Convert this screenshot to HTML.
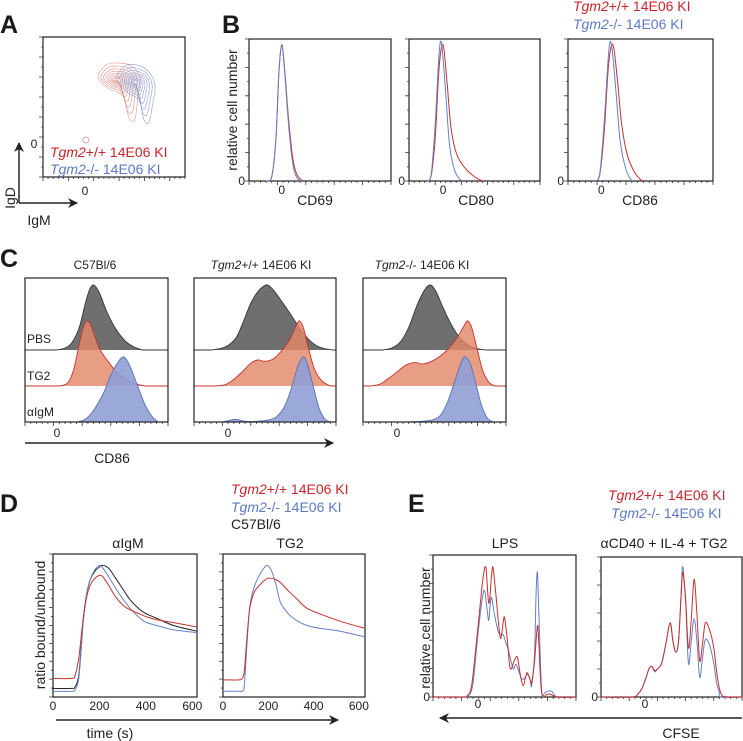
<!DOCTYPE html>
<html><head><meta charset="utf-8"><style>
html,body{margin:0;padding:0;background:#fff}
svg{display:block}
text{font-family:"Liberation Sans",Arial,sans-serif;fill:#222}
.pl{font-weight:bold;font-size:25px;fill:#1a1a1a}
.lab{font-size:14px}
.sm{font-size:12px}
.r{fill:#c8262b}
.b{fill:#5b7bc4}
</style></head><body>
<svg id="fig" width="743" height="741" viewBox="0 0 743 741" xmlns="http://www.w3.org/2000/svg">
<defs><marker id="ah" markerWidth="10" markerHeight="10" refX="9" refY="5" orient="auto" markerUnits="userSpaceOnUse"><path d="M0,0 L10,5 L0,10 L3,5 Z" fill="#222"/></marker></defs>
<!-- Panel letters -->
<text class="pl" x="0" y="33">A</text>
<text class="pl" x="222" y="33">B</text>
<text class="pl" x="0" y="267">C</text>
<text class="pl" x="0" y="512">D</text>
<text class="pl" x="408" y="512">E</text>

<!-- A -->
<rect x="43" y="37" width="142" height="140" fill="none" stroke="#222" stroke-width="1.2"/>
<g id="contours"></g>
<text class="lab" x="50" y="157"><tspan class="r" font-style="italic">Tgm2</tspan><tspan class="r">+/+ 14E06 KI</tspan></text>
<text class="lab" x="50" y="174"><tspan class="b" font-style="italic">Tgm2</tspan><tspan class="b">-/- 14E06 KI</tspan></text>
<text class="sm" x="85" y="195" text-anchor="middle">0</text>
<text class="sm" x="34" y="148" text-anchor="middle">0</text>
<line x1="19" y1="203" x2="19" y2="143" stroke="#222" stroke-width="1.5" marker-end="url(#ah)"/>
<line x1="19" y1="203" x2="77" y2="203" stroke="#222" stroke-width="1.5" marker-end="url(#ah)"/>
<text class="lab" transform="translate(15,198) rotate(-90)" text-anchor="middle">IgD</text>
<text class="lab" x="39" y="225" text-anchor="middle">IgM</text>

<!-- B -->
<text class="lab" x="573" y="11"><tspan class="r" font-style="italic">Tgm2</tspan><tspan class="r">+/+ 14E06 KI</tspan></text>
<text class="lab" x="573" y="29"><tspan class="b" font-style="italic">Tgm2</tspan><tspan class="b">-/- 14E06 KI</tspan></text>
<text class="lab" transform="translate(237,110) rotate(-90)" text-anchor="middle">relative cell number</text>
<g id="panelB"></g>

<!-- C -->
<text class="sm" x="95" y="269" text-anchor="middle">C57Bl/6</text>
<text class="sm" x="261" y="269" text-anchor="middle"><tspan font-style="italic">Tgm2</tspan>+/+ 14E06 KI</text>
<text class="sm" x="422" y="269" text-anchor="middle"><tspan font-style="italic">Tgm2</tspan>-/- 14E06 KI</text>
<g id="panelC"></g>
<text class="sm" x="27" y="343">PBS</text>
<text class="sm" x="27" y="380">TG2</text>
<text class="sm" x="27" y="416">αIgM</text>
<line x1="25" y1="443" x2="333" y2="443" stroke="#222" stroke-width="1.5" marker-end="url(#ah)"/>
<text class="lab" x="112" y="463" text-anchor="middle">CD86</text>

<!-- D -->
<text class="lab" x="231" y="494"><tspan class="r" font-style="italic">Tgm2</tspan><tspan class="r">+/+ 14E06 KI</tspan></text>
<text class="lab" x="231" y="512"><tspan class="b" font-style="italic">Tgm2</tspan><tspan class="b">-/- 14E06 KI</tspan></text>
<text class="lab" x="231" y="529" fill="#333">C57Bl/6</text>
<text class="lab" x="128" y="548" text-anchor="middle">αIgM</text>
<text class="lab" x="290" y="548" text-anchor="middle">TG2</text>
<text class="lab" transform="translate(45,625) rotate(-90)" text-anchor="middle">ratio bound/unbound</text>
<g id="panelD"></g>
<line x1="56" y1="720" x2="338" y2="720" stroke="#222" stroke-width="1.5" marker-end="url(#ah)"/>
<text class="lab" x="110" y="738" text-anchor="middle">time (s)</text>

<!-- E -->
<text class="lab" x="608" y="500"><tspan class="r" font-style="italic">Tgm2</tspan><tspan class="r">+/+ 14E06 KI</tspan></text>
<text class="lab" x="611" y="518"><tspan class="b" font-style="italic">Tgm2</tspan><tspan class="b">-/- 14E06 KI</tspan></text>
<text class="lab" x="505" y="548" text-anchor="middle">LPS</text>
<text class="lab" x="664" y="548" text-anchor="middle">αCD40 + IL-4 + TG2</text>
<text class="lab" transform="translate(430,628) rotate(-90)" text-anchor="middle">relative cell number</text>
<g id="panelE"></g>
<line x1="742" y1="718" x2="440" y2="718" stroke="#222" stroke-width="1.5" marker-end="url(#ah)"/>
<text class="lab" x="681" y="738" text-anchor="middle">CFSE</text>
</svg>
<script>
// ---------- DATA ----------
// A contour outlines (offsets from centre, outer level) and level scales
const contourRedCenter=[118,80];
const contourRedOutline=[[-20,-3],[-12,-15],[0,-17],[14,-14],[22,-2],[20,15],[17,39],[11,38],[5,16],[-10,8]];
const contourBlueCenter=[135,82];
const contourBlueOutline=[[-18,-4],[-10,-16],[2,-17],[14,-10],[20,4],[18,20],[14,40],[9,38],[4,18],[-8,10]];
const contourLevels=[1,0.86,0.73,0.61,0.5,0.4,0.31,0.22,0.14];

// B histograms: x in % of box width, y in % of box height
const bRed1=[[12,0],[16,3],[19,30],[21,75],[23,96],[25,80],[28,42],[31,15],[34,4],[38,0]];
const bBlue1=[[12,0],[16,3],[19,31],[21,76],[23,96],[25,78],[28,38],[31,11],[34,2],[37,0]];
const bRed2=[[14,0],[17,4],[20,30],[23,80],[26,96],[29,70],[32,38],[36,20],[42,10],[50,3],[56,0]];
const bBlue2=[[14,0],[17,5],[20,40],[23,90],[25,96],[28,62],[31,25],[35,7],[40,0]];
const bRed3=[[19,0],[22,5],[25,35],[28,82],[31,96],[34,72],[37,40],[41,18],[46,6],[51,0]];
const bBlue3=[[19,0],[22,6],[25,42],[28,90],[30,96],[33,64],[36,28],[40,8],[44,0]];
const bTickLabels=["CD69","CD80","CD86"];

// C histograms: x in % box width, y height in px-units (100 = 65px)
const cGray1=[[22,0],[28,3],[33,12],[38,35],[42,70],[45,92],[48,100],[52,88],[57,60],[63,34],[70,14],[76,5],[82,0]];
const cRed1=[[24,0],[30,5],[34,25],[38,65],[41,92],[44,100],[47,88],[52,58],[58,38],[64,22],[71,10],[78,3],[84,0]];
const cBlue1=[[36,0],[42,4],[48,18],[55,45],[60,72],[65,92],[69,100],[73,88],[78,60],[84,26],[89,8],[93,0]];
const cGray2=[[12,0],[18,2],[24,7],[30,20],[35,45],[40,72],[45,90],[49,98],[52,100],[56,92],[62,74],[68,55],[74,35],[80,18],[86,7],[92,2],[98,0]];
const cRed2=[[15,0],[22,2],[28,10],[34,22],[40,35],[45,40],[50,38],[56,42],[62,55],[67,70],[71,88],[74,100],[77,90],[81,55],[85,25],[90,8],[96,0]];
const cBlue2=[[20,0],[26,3],[30,4],[36,1],[44,1],[52,3],[58,8],[64,25],[69,55],[73,85],[77,100],[80,88],[84,55],[88,22],[92,5],[96,0]];
const cGray3=[[14,0],[20,3],[26,12],[32,35],[38,70],[43,92],[47,100],[51,90],[56,65],[62,38],[68,18],[74,7],[80,2],[86,0]];
const cRed3=[[6,0],[12,3],[18,12],[24,22],[30,32],[36,36],[42,34],[48,38],[54,46],[60,58],[66,75],[70,90],[73,100],[76,90],[80,55],[84,22],[88,6],[92,0]];
const cBlue3=[[30,0],[40,1],[48,3],[54,10],[59,30],[64,62],[68,88],[71,100],[75,90],[79,58],[83,25],[87,6],[91,0]];

// D calcium flux: time (s) and ratio (% of box height)
const dTime=[0,80,95,110,120,131,145,160,180,200,215,240,270,303,332,375,404,447,519,620];
const dIgmRed=[13,13,15,26,40,56,70,78,83,85,84,78,70,64,61,58,56,54,52,49];
const dIgmBlue=[4,4,5,12,30,54,72,82,89,92,90,84,76,68,62,55,52,50,47,45];
const dIgmBlack=[6,6,7,14,32,55,72,82,88,91,92,90,83,75,68,61,58,55,50,46];
const dTime2=[0,70,85,94,105,115,123,140,160,180,196,215,235,254,290,330,371,430,517,627];
const dTg2Red=[12,12,13,18,40,58,66,74,78,81,83,83,82,80,74,68,62,58,53,48];
const dTg2Blue=[4,4,4,8,35,58,68,78,85,90,92,88,78,66,58,53,50,48,46,42];
const dTickLabels=["0","200","400","600"];
const dTickValues=[0,200,400,600];

// E CFSE: x % of box width, y % of box height
const eLpsRed=[[0,0],[20,0],[24,1],[27,8],[30,35],[33,65],[35,84],[37,91],[39,66],[41,86],[42,91],[44,72],[47,42],[49,52],[50,56],[52,40],[54,20],[57,26],[59,28],[61,16],[63,8],[65,15],[66,17],[68,12],[69,10],[71,25],[73,50],[74,38],[76,3],[80,2],[82,2],[87,0],[100,0]];
const eLpsBlue=[[0,0],[20,0],[25,1],[28,10],[31,40],[34,66],[36,75],[38,60],[39,54],[40,65],[41,70],[43,58],[46,45],[49,44],[51,38],[53,32],[56,20],[58,23],[60,18],[62,13],[64,13],[66,16],[68,12],[69,8],[71,30],[72,70],[73,88],[74,60],[76,4],[78,3],[80,4],[83,4],[87,0],[100,0]];
const eCdRed=[[0,0],[22,0],[26,2],[29,6],[32,14],[34,20],[36,22],[38,19],[40,20],[43,24],[46,38],[49,53],[51,40],[53,32],[55,40],[57,75],[58,89],[60,70],[62,35],[64,55],[66,84],[68,60],[70,26],[72,38],[74,53],[77,48],[80,35],[82,18],[84,6],[86,1],[90,0],[100,0]];
const eCdBlue=[[0,0],[22,0],[26,2],[29,6],[32,14],[34,20],[36,22],[38,18],[40,20],[43,24],[46,38],[49,53],[51,40],[53,32],[55,40],[57,78],[58,93],[60,68],[62,24],[64,40],[66,56],[68,40],[70,14],[72,28],[74,41],[77,37],[80,24],[82,10],[84,3],[85,0],[100,0]];

// ---------- helpers ----------
const NS="http://www.w3.org/2000/svg";
function mk(tag,parent){const e=document.createElementNS(NS,tag);parent.appendChild(e);return e;}
function smooth(pts,closed){
  if(pts.length<2)return "";
  let d="M"+pts[0][0].toFixed(2)+","+pts[0][1].toFixed(2);
  const n=pts.length;
  for(let i=0;i<(closed?n:n-1);i++){
    const p0=pts[(i-1+n)%n],p1=pts[i],p2=pts[(i+1)%n],p3=pts[(i+2)%n];
    const a=closed||i>0?p0:p1, b=closed||i+2<n?p3:p2;
    const c1=[p1[0]+(p2[0]-a[0])/6,p1[1]+(p2[1]-a[1])/6];
    const c2=[p2[0]-(b[0]-p1[0])/6,p2[1]-(b[1]-p1[1])/6];
    d+=" C"+c1[0].toFixed(2)+","+c1[1].toFixed(2)+" "+c2[0].toFixed(2)+","+c2[1].toFixed(2)+" "+p2[0].toFixed(2)+","+p2[1].toFixed(2);
  }
  return d+(closed?" Z":"");
}
function frame(g,x,y,w,h,name){
  const r=mk("rect",g);r.setAttribute("x",x);r.setAttribute("y",y);r.setAttribute("width",w);r.setAttribute("height",h);
  r.setAttribute("fill","none");r.setAttribute("stroke","#222");r.setAttribute("stroke-width","1.2");
  
  
}
function ticksX(g,x,y,w,n){
  let d="";for(let i=0;i<=n;i++){const xx=x+w*i/n;d+="M"+xx+","+y+"v"+(i%5==0?4:2);}
  const p=mk("path",g);p.setAttribute("d",d);p.setAttribute("stroke","#333");p.setAttribute("stroke-width","0.8");
  
  
}
function ticksY(g,x,y,h,n){
  let d="";for(let i=0;i<=n;i++){const yy=y+h*i/n;d+="M"+x+","+yy+"h"+(i%2==0?-4:-2);}
  const p=mk("path",g);p.setAttribute("d",d);p.setAttribute("stroke","#333");p.setAttribute("stroke-width","0.8");
  
  
}
function textAt(g,x,y,s,cls,anchor,name){
  const t=mk("text",g);t.setAttribute("x",x);t.setAttribute("y",y);t.setAttribute("class",cls);
  if(anchor)t.setAttribute("text-anchor",anchor);t.textContent=s;
  
  
}
function line(g,pts,color,name,w){
  const p=mk("path",g);p.setAttribute("d",smooth(pts,false));p.setAttribute("fill","none");
  p.setAttribute("stroke",color);p.setAttribute("stroke-width",w||1);
  
  
}
const RED="#c8302e", BLUE="#6580c6";

// ---------- A contours ----------
(function(){
  const g=document.getElementById("contours");
  function draw(center,outline,color,name){
    contourLevels.forEach((s,i)=>{
      const pts=outline.map(p=>[center[0]+p[0]*s,center[1]+p[1]*s*(0.6+0.4*s)]);
      const p=mk("path",g);p.setAttribute("d",smooth(pts,true));p.setAttribute("fill","none");
      p.setAttribute("stroke",color);p.setAttribute("stroke-width","0.7");p.setAttribute("opacity","0.75");
      
      
    });
  }
  draw(contourRedCenter,contourRedOutline,"#d9857c","contour-tgm2-wt");
  draw(contourBlueCenter,contourBlueOutline,"#7f8fc8","contour-tgm2-ko");
  const c=mk("circle",g);c.setAttribute("cx",86);c.setAttribute("cy",140);c.setAttribute("r",3);c.setAttribute("fill","none");c.setAttribute("stroke","#d9857c");c.setAttribute("stroke-width","0.7");
  
  
  ticksX(g,43,177,142,28);
  ticksY(g,43,37,140,14);
})();

// ---------- B ----------
(function(){
  const g=document.getElementById("panelB");
  const boxes=[[249,39,142,142],[409,39,131,142],[568,39,145,142]];
  const zeros=[23,26,23];
  const labX=[315,476,640];
  const series=[[bRed1,bBlue1],[bRed2,bBlue2],[bRed3,bBlue3]];
  boxes.forEach((b,i)=>{
    const [x,y,w,h]=b;
    const sx=v=>x+w*v/100, sy=v=>y+h-h*v/100;
    frame(g,x,y,w,h,"b-plot-frame-"+(i+1));
    ticksX(g,x,y+h,w,25);ticksY(g,x,y,h,10);
    line(g,series[i][0].map(p=>[sx(p[0]),sy(p[1])]),RED,"b-line-tgm2-wt-"+(i+1));
    line(g,series[i][1].map(p=>[sx(p[0]),sy(p[1])]),BLUE,"b-line-tgm2-ko-"+(i+1));
    textAt(g,x+w*zeros[i]/100,y+h+13,"0","sm","middle","b-x-zero-"+(i+1));
    textAt(g,x-4,y+h+4,"0","sm","end","b-y-zero-"+(i+1));
    textAt(g,labX[i],205,bTickLabels[i],"lab","middle","b-x-title-"+(i+1));
  });
})();

// ---------- C ----------
(function(){
  const g=document.getElementById("panelC");
  const boxes=[[25,278,143],[194,278,142],[363,278,143]];
  const zeros=[57,228,397];
  const sets=[[cGray1,cRed1,cBlue1],[cGray2,cRed2,cBlue2],[cGray3,cRed3,cBlue3]];
  const bases=[350,386,422];
  const fills=["#6f6f6f","#e3876a","#8f9fd6"];
  const strokes=["#333","#c8302e","#5a72b8"];
  const op=[1,0.82,0.9];
  const names=["pbs","tg2","aigm"];
  boxes.forEach((b,i)=>{
    const [x,y,w]=b;
    sets[i].forEach((s,j)=>{
      const base=bases[j];
      const pts=s.map(p=>[x+w*p[0]/100,base-0.65*p[1]]);
      const d=smooth(pts,false)+" L"+(x+w)+","+base+" L"+x+","+base+" L"+pts[0][0]+","+base+" Z";
      const f=mk("path",g);f.setAttribute("d",smooth(pts,false)+" Z");f.setAttribute("fill",fills[j]);f.setAttribute("fill-opacity",op[j]);
      
      
      const l=mk("path",g);l.setAttribute("d","M"+x+","+base+" L"+pts[0][0]+","+base+" "+smooth(pts,false).replace("M","L")+" L"+(x+w)+","+base);
      l.setAttribute("fill","none");l.setAttribute("stroke",strokes[j]);l.setAttribute("stroke-width","0.9");
      
      
    });
    frame(g,x,y,w,144,"c-plot-frame-"+(i+1));
    ticksX(g,x,422,w,25);
    textAt(g,zeros[i],437,"0","sm","middle","c-x-zero-"+(i+1));
  });
})();

// ---------- D ----------
(function(){
  const g=document.getElementById("panelD");
  const boxes=[[53,554,144,143,620],[223,554,142,143,627]];
  const sets=[[dTime,[[dIgmBlack,"#222","black"],[dIgmBlue,BLUE,"ko"],[dIgmRed,RED,"wt"]]],[dTime2,[[dTg2Blue,BLUE,"ko"],[dTg2Red,RED,"wt"]]]];
  boxes.forEach((b,i)=>{
    const [x,y,w,h,tmax]=b;
    const sx=t=>x+w*t/tmax, sy=v=>y+h-h*v/100;
    frame(g,x,y,w,h,"d-plot-frame-"+(i+1));
    ticksY(g,x,y,h,16);
    const times=sets[i][0];
    sets[i][1].forEach(s=>{
      line(g,times.map((t,k)=>[sx(t),sy(s[0][k])]),s[1],"d-line-"+s[2]+"-"+(i+1));
    });
    dTickValues.forEach((t,k)=>{
      textAt(g,sx(t),y+h+13,dTickLabels[k],"sm","middle","d-x-tick-"+dTickLabels[k]+"-"+(i+1));
    });
  });
})();

// ---------- E ----------
(function(){
  const g=document.getElementById("panelE");
  const boxes=[[433,555,143,142],[601,557,141,140]];
  const zeros=[478,645];
  const sets=[[eLpsBlue,eLpsRed],[eCdBlue,eCdRed]];
  boxes.forEach((b,i)=>{
    const [x,y,w,h]=b;
    const sx=v=>x+w*v/100, sy=v=>y+h-h*v/100;
    frame(g,x,y,w,h,"e-plot-frame-"+(i+1));
    ticksX(g,x,y+h,w,25);ticksY(g,x,y,h,10);
    line(g,sets[i][0].map(p=>[sx(p[0]),sy(p[1])]),BLUE,"e-line-tgm2-ko-"+(i+1));
    line(g,sets[i][1].map(p=>[sx(p[0]),sy(p[1])]),RED,"e-line-tgm2-wt-"+(i+1));
    textAt(g,zeros[i],708,"0","sm","middle","e-x-zero-"+(i+1));
    textAt(g,x-3,y+h+4,"0","sm","end","e-y-zero-"+(i+1));
  });
})();
</script>
</body></html>
